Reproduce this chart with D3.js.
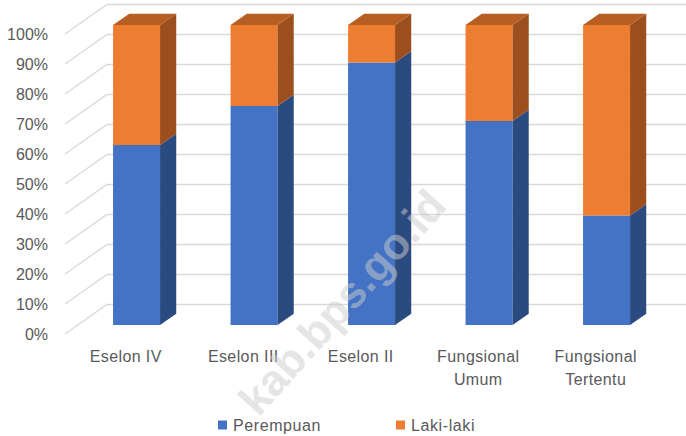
<!DOCTYPE html>
<html>
<head>
<meta charset="utf-8">
<script src="https://cdn.jsdelivr.net/npm/d3@7"></script>
<style>
  body { margin: 0; background: #fff; }
  text { font-family: "Liberation Sans", Arial, sans-serif; fill: #595959; }
</style>
</head>
<body>
<svg id="chart" width="686" height="436"></svg>
<script>
// chart values
const categories = ["Eselon IV", "Eselon III", "Eselon II", "Fungsional Umum", "Fungsional Tertentu"];
const perempuan = [60, 73, 87.5, 68, 36.5];
const lakiLaki = [40, 27, 12.5, 32, 63.5];
const seriesNames = ["Perempuan", "Laki-laki"];
const yTicks = [0, 10, 20, 30, 40, 50, 60, 70, 80, 90, 100];

const svg = d3.select("#chart");
const width = +svg.attr("width");

// 3d look: a depth vector for the floor, bars sit between two depths
const depth = { x: 42, y: -29.5 };
const front = 0.305, back = 0.69;

const x = d3.scaleBand().domain(categories).range([65, 652.5]).paddingInner(0.6).paddingOuter(0.3);
const y = d3.scaleLinear().domain([0, 100]).range([334, 34]);

// face colours for each series: front, side, top
const faces = [
  { front: "#4472C4", side: "#2B4A80", top: "#3A63AD" },
  { front: "#ED7D31", side: "#9C4F1D", top: "#B75E22" }
];

// gridlines: diagonal on the left floor edge, then flat along the back wall
const grid = svg.append("g");
yTicks.forEach(t => {
  const x0 = 65, y0 = y(t);
  grid.append("polyline")
    .attr("points", [[x0, y0], [x0 + depth.x, y0 + depth.y], [width, y0 + depth.y]].join(" "))
    .attr("fill", "none")
    .attr("stroke", "#d9d9d9")
    .attr("stroke-width", 1.3);
});

// y labels
svg.append("g").selectAll("text").data(yTicks).join("text")
  .attr("x", 48)
  .attr("y", d => y(d))
  .attr("dy", "0.36em")
  .attr("text-anchor", "end")
  .style("font-size", "16px")
  .text(d => d + "%");

// stacked 3d bars
const stack = categories.map((c, i) => {
  const segs = [];
  let base = 0;
  [perempuan[i], lakiLaki[i]].forEach((v, s) => {
    segs.push({ cat: c, s: s, y0: base, y1: base + v });
    base += v;
  });
  return segs;
});

const bars = svg.append("g");
const fx = front * depth.x, fy = front * depth.y;
const sx = (back - front) * depth.x, sy = (back - front) * depth.y;
stack.forEach(segs => {
  segs.forEach((d, k) => {
    const xl = x(d.cat) + fx, xr = xl + x.bandwidth();
    const yb = y(d.y0) + fy, yt = y(d.y1) + fy;
    const c = faces[d.s];
    bars.append("rect")
      .attr("x", xl).attr("y", yt)
      .attr("width", x.bandwidth()).attr("height", yb - yt)
      .attr("fill", c.front);
    bars.append("polygon")
      .attr("points", [[xr, yt], [xr, yb], [xr + sx, yb + sy], [xr + sx, yt + sy]].join(" "))
      .attr("fill", c.side);
    if (k === segs.length - 1) {
      bars.append("polygon")
        .attr("points", [[xl, yt], [xr, yt], [xr + sx, yt + sy], [xl + sx, yt + sy]].join(" "))
        .attr("fill", c.top);
    }
  });
});

// category labels, wrapped when too wide
svg.append("g").selectAll("text").data(categories).join("text")
  .attr("x", d => x(d) + x.bandwidth() / 2 + 2)
  .attr("y", 362)
  .attr("text-anchor", "middle")
  .style("font-size", "16px")
  .style("letter-spacing", "0.4px")
  .each(function(d) {
    const t = d3.select(this);
    const words = d.split(" ");
    const lines = d.length > 12 ? words : [d];
    lines.forEach((w, i) => {
      t.append("tspan").attr("x", t.attr("x")).attr("dy", i === 0 ? 0 : 23).text(w);
    });
  });

// legend
const legendX = [218, 396];
const legend = svg.append("g").selectAll("g").data(seriesNames).join("g")
  .attr("transform", (d, i) => `translate(${legendX[i]},425)`);
legend.append("rect")
  .attr("x", 0).attr("y", -4.5)
  .attr("width", 9).attr("height", 9)
  .attr("fill", (d, i) => faces[i].front);
legend.append("text")
  .attr("x", 15).attr("dy", "0.36em")
  .style("font-size", "16px")
  .style("letter-spacing", "0.6px")
  .text(d => d);

// watermark
svg.append("text")
  .attr("transform", "translate(342,302) rotate(-48)")
  .attr("text-anchor", "middle")
  .attr("dy", "0.35em")
  .style("font-size", "44px")
  .style("font-weight", "bold")
  .style("fill", "#cccccc")
  .style("opacity", 0.5)
  .text("kab.bps.go.id");
</script>
</body>
</html>
